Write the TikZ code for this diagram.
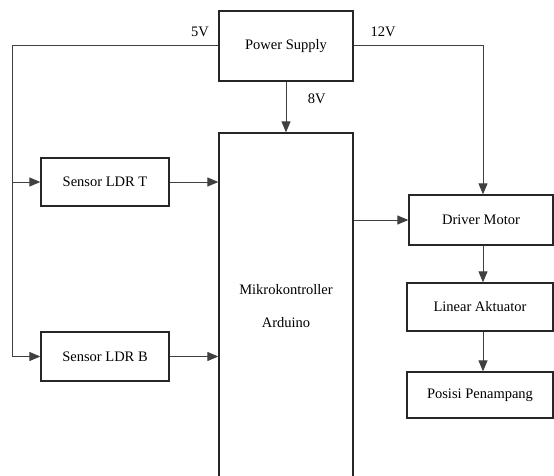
\documentclass[tikz,border=0pt]{standalone}
\usepackage{fontspec}
\setmainfont{Liberation Serif}
\usetikzlibrary{arrows.meta}
\begin{document}
\begin{tikzpicture}[x=1pt, y=-1pt, line width=1pt, draw=black!75,
    every node/.style={font=\fontsize{14.5}{17}\selectfont},
    block/.style={rectangle, draw=black!85, line width=1.3pt, inner sep=0pt},
    arr/.style={-{Triangle[length=11pt,width=9pt]}}]
    \clip (0,0) rectangle (554,476);

    % Node definitions
    \node (ps) at (286, 46) [block, minimum width=134, minimum height=70] {Power Supply};
    \node (mcu) at (286, 306) [block, minimum width=134, minimum height=346, align=center,
        font=\fontsize{14.5}{33}\selectfont] {Mikrokontroller\\Arduino};
    \node (ldrT) at (105, 182) [block, minimum width=128, minimum height=48] {Sensor LDR T};
    \node (ldrB) at (105, 356.5) [block, minimum width=128, minimum height=49] {Sensor LDR B};
    \node (drv) at (481, 220) [block, minimum width=144, minimum height=50] {Driver Motor};
    \node (lin) at (480, 307) [block, minimum width=146, minimum height=48] {Linear Aktuator};
    \node (pos) at (480, 395) [block, minimum width=146, minimum height=46] {Posisi Penampang};
    \coordinate (c5) at (12, 46);
    \coordinate (c12) at (483, 46);

    % Supply lines
    \draw (ps.west) -- (c5) -- (c5 |- ldrB.west);
    \draw[arr] (c5 |- ldrB.west) -- (ldrB.west);
    \draw[arr] (c5 |- ldrT.west) -- (ldrT.west);
    \draw[arr] (ps.east) -- (c12) -- (c12 |- drv.north);
    \draw[arr] (ps.south) -- (mcu.north) node[pos=0.33, right, xshift=18pt] {8V};
    \node (v5) at (200, 32) {5V};
    \node (v12) at (383, 32) {12V};

    % Signal lines
    \draw[arr] (ldrT.east) -- (ldrT.east -| mcu.west);
    \draw[arr] (ldrB.east) -- (ldrB.east -| mcu.west);
    \draw[arr] (drv.west -| mcu.east) -- (drv.west);
    \draw[arr] (drv.south -| c12) -- (lin.north -| c12);
    \draw[arr] (lin.south -| c12) -- (pos.north -| c12);
\end{tikzpicture}
\end{document}
